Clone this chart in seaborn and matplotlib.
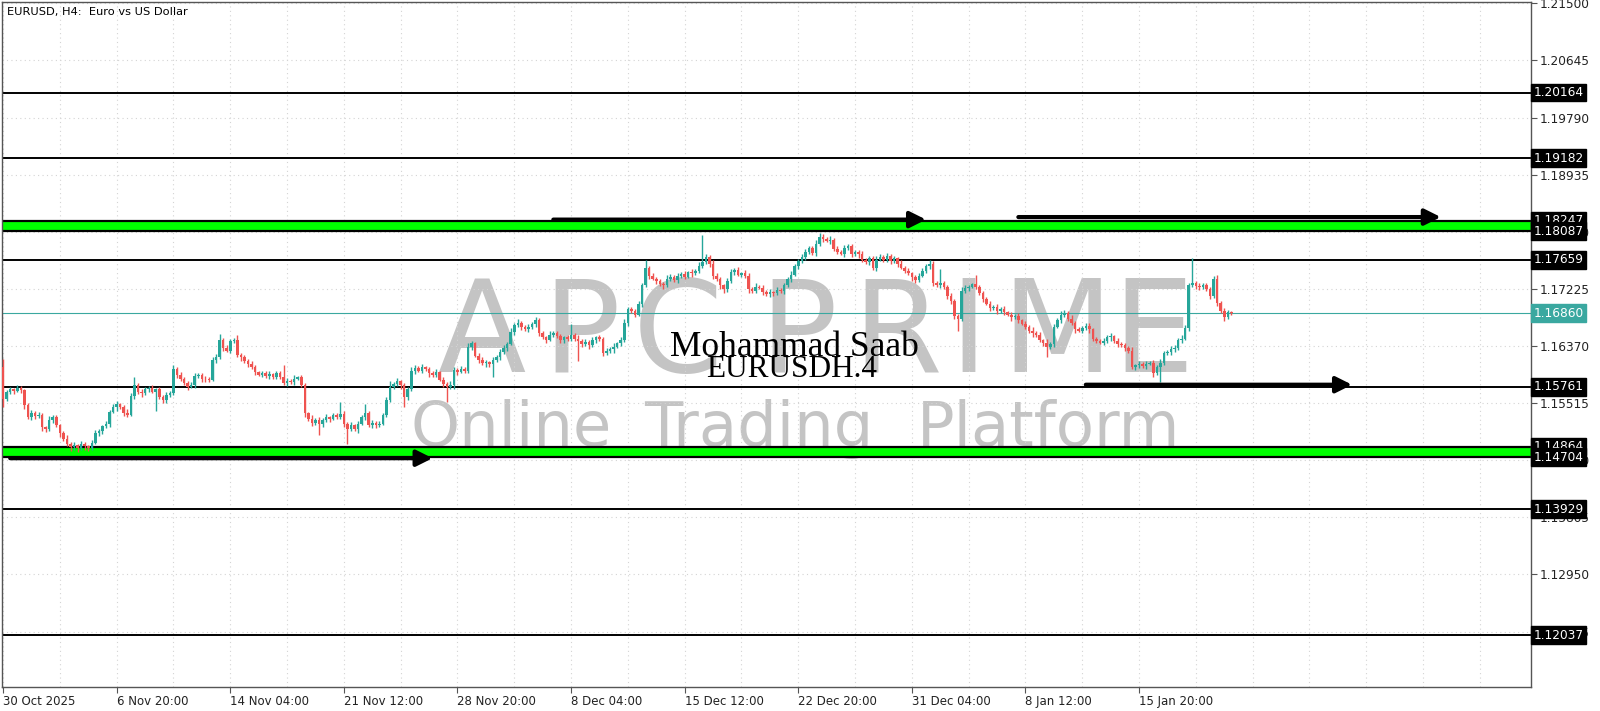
import numpy as np
import pandas as pd
import matplotlib
matplotlib.use("Agg")
import matplotlib.pyplot as plt
import matplotlib.transforms as mtransforms
import seaborn as sns

# H4 closes, in pips above 1.1000 (1.1686 -> 686)
closes = [
    558, 568, 572, 570, 574, 571, 548, 530, 536, 532,
    534, 515, 512, 526, 530, 518, 506, 498, 490, 486,
    489, 485, 490, 487, 484, 492, 506, 510, 517, 520,
    538, 545, 550, 546, 536, 534, 562, 578, 568, 566,
    572, 574, 568, 572, 560, 556, 563, 566, 602, 594,
    588, 581, 576, 578, 592, 594, 588, 587, 586, 616,
    621, 646, 634, 630, 644, 646, 624, 620, 615, 610,
    606, 598, 594, 596, 592, 595, 591, 596, 590, 582,
    585, 583, 588, 590, 578, 536, 528, 522, 526, 520,
    526, 530, 528, 533, 531, 535, 520, 513, 518, 512,
    520, 530, 537, 519, 522, 518, 520, 534, 556, 576,
    580, 584, 578, 560, 572, 600, 604, 600, 605, 602,
    596, 594, 598, 586, 580, 576, 578, 601, 598, 602,
    600, 636, 641, 622, 616, 611, 613, 610, 616, 620,
    628, 634, 640, 658, 668, 672, 666, 662, 666, 670,
    676, 656, 650, 646, 654, 656, 652, 646, 650, 648,
    654, 648, 645, 640, 643, 638, 646, 650, 648, 627,
    630, 632, 636, 641, 646, 672, 692, 690, 684, 700,
    728, 754, 742, 738, 734, 730, 728, 738, 741, 736,
    742, 745, 741, 748, 746, 750, 756, 763, 770, 760,
    742, 738, 728, 722, 735, 748, 751, 744, 746, 742,
    722, 720, 726, 724, 718, 715, 718, 716, 721, 719,
    728, 738, 744, 756, 764, 770, 778, 784, 776, 790,
    800, 797, 794, 796, 782, 778, 775, 783, 786, 774,
    777, 774, 766, 762, 768, 754, 766, 770, 766, 771,
    764, 768, 760, 754, 750, 746, 740, 736, 742, 750,
    756, 760, 732, 728, 731, 726, 712, 704, 682, 678,
    720, 724, 726, 730, 726, 716, 708, 700, 694, 696,
    690, 692, 688, 684, 680, 682, 676, 670, 666, 660,
    656, 654, 646, 642, 636, 640, 666, 676, 684, 687,
    678, 672, 662, 660, 664, 667, 662, 648, 644, 642,
    644, 650, 652, 644, 640, 638, 634, 630, 606, 608,
    610, 607, 610, 612, 597, 606, 612, 626, 628, 632,
    634, 646, 648, 664, 728, 732, 727, 725, 728, 722,
    712, 738, 702, 690, 680, 688, 686,
]
first_open = 605

# wick lengths in pips above / below the body
up_wick = [
    13, 3, 4, 2, 5, 3, 2, 4, 5, 3,
    4, 3, 2, 6, 3, 4, 2, 3, 5, 3,
    4, 2, 5, 3, 2, 4, 5, 3, 2, 4,
    3, 5, 4, 2, 3, 6, 4, 12, 3, 5,
    4, 3, 5, 2, 4, 3, 5, 4, 6, 3,
    4, 2, 3, 5, 4, 3, 2, 4, 3, 5,
    4, 9, 3, 5, 4, 3, 7, 2, 4, 3,
    5, 3, 2, 4, 3, 5, 2, 4, 3, 18,
    4, 3, 5, 2, 4, 3, 2, 5, 3, 4,
    3, 5, 2, 4, 3, 18, 4, 3, 5, 2,
    4, 3, 13, 2, 4, 3, 5, 2, 4, 9,
    3, 5, 2, 4, 3, 6, 4, 3, 5, 2,
    4, 3, 5, 2, 4, 3, 6, 4, 3, 5,
    4, 6, 3, 2, 5, 4, 3, 2, 4, 3,
    5, 4, 3, 6, 4, 5, 3, 2, 4, 3,
    5, 3, 4, 2, 5, 3, 4, 3, 2, 4,
    16, 3, 5, 2, 4, 3, 5, 2, 4, 3,
    4, 3, 5, 2, 4, 6, 3, 4, 2, 5,
    4, 11, 3, 5, 2, 4, 3, 5, 4, 3,
    4, 3, 5, 2, 4, 3, 6, 40, 4, 3,
    5, 4, 3, 2, 4, 5, 3, 4, 2, 5,
    4, 3, 5, 2, 4, 3, 5, 2, 4, 3,
    4, 3, 5, 4, 3, 5, 4, 3, 2, 5,
    6, 4, 3, 5, 2, 4, 3, 5, 4, 3,
    4, 3, 5, 2, 4, 3, 5, 4, 3, 5,
    3, 4, 2, 5, 3, 4, 2, 3, 5, 4,
    3, 5, 4, 3, 22, 4, 3, 5, 4, 3,
    5, 4, 3, 2, 13, 3, 4, 2, 5, 3,
    4, 3, 5, 2, 4, 3, 5, 2, 4, 3,
    5, 3, 4, 2, 5, 3, 4, 3, 5, 4,
    3, 5, 2, 4, 3, 5, 4, 2, 3, 4,
    5, 3, 4, 2, 5, 3, 4, 3, 5, 2,
    4, 3, 5, 2, 4, 3, 5, 4, 3, 5,
    4, 3, 5, 4, 4, 36, 3, 5, 4, 3,
    4, 4, 5, 3, 4, 3, 2,
]
low_wick = [
    13, 4, 3, 5, 2, 4, 6, 3, 4, 5,
    3, 5, 4, 2, 4, 3, 5, 4, 3, 6,
    4, 7, 3, 5, 4, 3, 2, 4, 5, 3,
    4, 2, 5, 3, 4, 3, 2, 4, 3, 5,
    3, 4, 2, 28, 3, 5, 4, 2, 3, 5,
    4, 3, 5, 2, 4, 3, 5, 4, 3, 2,
    4, 3, 5, 2, 4, 3, 4, 5, 3, 4,
    3, 5, 2, 4, 3, 5, 4, 3, 2, 4,
    5, 3, 4, 2, 3, 6, 4, 5, 3, 17,
    4, 3, 5, 2, 4, 3, 5, 23, 4, 3,
    5, 2, 4, 3, 5, 4, 3, 2, 4, 3,
    4, 3, 5, 15, 4, 3, 5, 2, 4, 3,
    5, 4, 3, 2, 4, 23, 3, 5, 4, 2,
    4, 3, 5, 2, 4, 3, 5, 4, 20, 3,
    4, 3, 5, 2, 4, 3, 5, 2, 4, 3,
    5, 4, 3, 5, 2, 4, 3, 5, 4, 3,
    4, 3, 30, 4, 3, 5, 2, 4, 3, 5,
    4, 3, 5, 2, 4, 3, 5, 4, 3, 2,
    4, 3, 5, 2, 4, 3, 5, 2, 4, 3,
    5, 3, 4, 2, 5, 3, 4, 2, 3, 5,
    4, 3, 5, 6, 4, 3, 5, 2, 4, 3,
    5, 4, 3, 2, 4, 3, 5, 4, 3, 2,
    4, 3, 5, 2, 4, 3, 5, 4, 3, 5,
    3, 4, 2, 5, 3, 4, 2, 5, 3, 4,
    3, 5, 4, 2, 4, 3, 5, 2, 4, 3,
    4, 3, 5, 2, 4, 3, 5, 4, 3, 2,
    4, 3, 5, 2, 4, 3, 5, 4, 5, 18,
    4, 3, 5, 2, 4, 3, 5, 2, 4, 3,
    5, 3, 4, 2, 5, 3, 4, 2, 4, 3,
    5, 4, 3, 5, 16, 3, 4, 2, 5, 3,
    4, 3, 5, 2, 4, 3, 5, 4, 3, 2,
    4, 3, 5, 2, 4, 3, 5, 4, 3, 5,
    4, 3, 5, 2, 7, 3, 23, 4, 3, 5,
    4, 3, 5, 2, 4, 3, 5, 4, 3, 2,
    4, 3, 5, 4, 6, 3, 2,
]

date_labels = ["30 Oct 2025", "6 Nov 20:00", "14 Nov 04:00", "21 Nov 12:00",
               "28 Nov 20:00", "8 Dec 04:00", "15 Dec 12:00", "22 Dec 20:00",
               "31 Dec 04:00", "8 Jan 12:00", "15 Jan 20:00"]
price_ticks = [1.21500, 1.20645, 1.19790, 1.18935, 1.18080, 1.17225,
               1.16370, 1.15515, 1.14660, 1.13805, 1.12950, 1.12095]
level_lines = [1.20164, 1.19182, 1.17659, 1.15761, 1.13929, 1.12037]
zone_low = [1.18087, 1.14704]
zone_high = [1.18247, 1.14864]
bid_price = 1.16860
# arrows: start bar, end bar, price
arrow_start = [155, 286, 2, 305]
arrow_end = [260, 405, 121, 380]
arrow_price = [1.18262, 1.18300, 1.14690, 1.15790]

# watermark letters / words and the bar each one is centred on
logo_letters = list("APCPRIME")
logo_bars = [135, 163, 190, 224, 252, 272, 297, 324]
slogan_words = ["Online", "Trading", "Platform"]
slogan_bars = [143, 213, 294.5]

# ---- build OHLC table
c = 1.1 + np.array(closes) / 1e4
o = np.concatenate([[1.1 + first_open / 1e4], c[:-1]])
df = pd.DataFrame({"open": o, "close": c})
df["high"] = df[["open", "close"]].max(axis=1) + np.array(up_wick) / 1e4
df["low"] = df[["open", "close"]].min(axis=1) - np.array(low_wick) / 1e4
df["up"] = df["close"] >= df["open"]

sns.set_theme(style="white")
plt.rcParams["font.family"] = ["DejaVu Sans"]

fig = plt.figure(figsize=(16, 7.11), dpi=100)
ax = fig.add_axes([0.00125, 0.0338, 0.9556, 0.9634])

bull, bear = "#26a69a", "#ef5350"
colors = np.where(df["up"], bull, bear)

# light watermark behind everything
for ch, xb in zip(logo_letters, logo_bars):
    ax.text(xb, 1.15975, ch, ha="center", va="baseline", fontsize=93,
            color="#c4c4c4", zorder=0)
for w, xb in zip(slogan_words, slogan_bars):
    ax.text(xb, 1.14870, w, ha="center", va="baseline", fontsize=45,
            color="#c4c4c4", zorder=0)

# zones and levels
for lo, hi in zip(zone_low, zone_high):
    ax.axhspan(lo, hi, color="#00ff00", zorder=1, lw=0)
    ax.axhline(lo, color="black", lw=1.6, zorder=2)
    ax.axhline(hi, color="black", lw=1.6, zorder=2)
for lv in level_lines:
    ax.axhline(lv, color="black", lw=1.4, zorder=2)
ax.axhline(bid_price, color="#3aa8a0", lw=0.8, zorder=2)

# candles
ax.vlines(df.index, df["low"], df["high"], colors=colors, lw=1, zorder=3)
body = (df["close"] - df["open"]).abs().clip(lower=0.00006)
ax.bar(df.index, body, bottom=df[["open", "close"]].min(axis=1), width=0.72,
       color=colors, lw=0, zorder=4)

# arrows
for s, e, p in zip(arrow_start, arrow_end, arrow_price):
    ax.annotate("", xy=(e, p), xytext=(s, p),
                arrowprops=dict(arrowstyle="-|>", color="black", lw=3,
                                mutation_scale=24, shrinkA=0, shrinkB=0),
                zorder=5)

ax.text(223, 1.16350, "Mohammad Saab", ha="center", va="center", fontsize=25.5,
        family="Liberation Serif", color="black", zorder=6)
ax.text(222, 1.16025, "EURUSDH.4", ha="center", va="center", fontsize=22.5,
        family="Liberation Serif", color="black", zorder=6)

ax.text(0.003, 0.992, "EURUSD, H4:  Euro vs US Dollar", transform=ax.transAxes,
        ha="left", va="top", fontsize=8.2, color="black")

# axes limits, ticks and grid
ax.set_xlim(-0.3, 430.4)
ax.set_ylim(1.11265, 1.21520)
ax.yaxis.tick_right()
ax.set_yticks(price_ticks)
ax.set_yticklabels([f"{v:.5f}" for v in price_ticks], fontsize=8.7, color="#222222")
ax.set_xticks(np.arange(0, 321, 32))
ax.set_xticklabels(date_labels, fontsize=8.5, color="#222222", ha="left")
ax.set_xticks(np.arange(0, 431, 16), minor=True)
ax.tick_params(axis="both", which="major", length=4, width=0.8, color="#555555",
               direction="out", pad=2, right=True, bottom=True)
ax.tick_params(axis="x", which="minor", length=0)
ax.grid(True, axis="x", which="both", ls=(0, (1, 3)), color="#d4d4d4", lw=0.8)
ax.grid(True, axis="y", which="major", ls=(0, (1, 3)), color="#d4d4d4", lw=0.8)
ax.set_axisbelow(True)
for sp in ax.spines.values():
    sp.set_color("#555555")
    sp.set_linewidth(1)

# price labels on the right scale
trans = mtransforms.blended_transform_factory(ax.transAxes, ax.transData)
box_levels = sorted(level_lines + zone_low + zone_high, reverse=True)
for lv in box_levels:
    ax.text(1.0017, lv, f"{lv:.5f}", transform=trans, ha="left", va="center",
            fontsize=8.7, color="white", clip_on=False, zorder=10,
            bbox=dict(boxstyle="square,pad=0.2", fc="black", ec="black"))
ax.text(1.0017, bid_price, f"{bid_price:.5f}", transform=trans, ha="left",
        va="center", fontsize=8.7, color="white", clip_on=False, zorder=10,
        bbox=dict(boxstyle="square,pad=0.2", fc="#3aa8a0", ec="#3aa8a0"))

fig.savefig("out.png", dpi=100, facecolor="white")
